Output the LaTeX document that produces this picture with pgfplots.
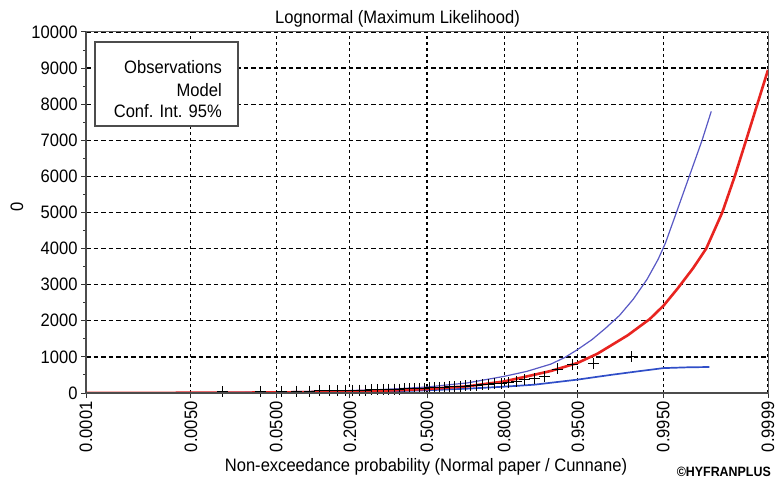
\documentclass[border=0pt]{standalone}
\usepackage{pgfplots}
\pgfplotsset{compat=1.18}
\usepackage{fontspec}
\setmainfont{Liberation Sans}[FakeStretch=0.92]

\definecolor{modelred}{RGB}{232,36,32}
\definecolor{ciupper}{RGB}{88,88,196}
\definecolor{cilower}{RGB}{48,78,200}
\definecolor{framegray}{RGB}{95,95,95}

\newcommand{\chartfont}{\fontsize{18bp}{20bp}\selectfont}

\begin{document}
\begin{tikzpicture}
\begin{axis}[
  scale only axis,
  width=682bp, height=361bp,
  xmin=-3.719, xmax=3.719,
  ymin=0, ymax=10000,
  % normal probability paper: x is the standard normal quantile
  xtick={-3.719,-2.576,-1.645,-0.8416,0,0.8416,1.645,2.576,3.719},
  xticklabels={0.0001,0.0050,0.0500,0.2000,0.5000,0.8000,0.9500,0.9950,0.9999},
  x tick label style={rotate=90, anchor=east, font=\chartfont},
  ytick distance=1000,
  minor y tick num=1,
  scaled y ticks=false,
  y tick label style={font=\chartfont,
    /pgf/number format/assume math mode=true,
    /pgf/number format/1000 sep={}},
  xtick pos=left, ytick pos=left,
  tick align=outside,
  major tick length=5bp, minor tick length=3bp,
  tick style={black!80, line width=1bp},
  grid=major,
  x grid style={black, line width=1.3bp, dash pattern=on 3bp off 3bp},
  y grid style={black, line width=1.3bp, dash pattern=on 4.5bp off 3bp},
  axis line style={framegray, line width=1bp},
]

% observations (Cunnane plotting positions, n = 46)
\addplot[only marks, mark=+, mark size=5.5bp, black, line width=0.9bp] table {
x y
-2.227 30
-1.817 40
-1.587 45
-1.419 50
-1.284 55
-1.169 60
-1.068 62
-0.976 65
-0.892 70
-0.814 75
-0.741 78
-0.671 82
-0.605 85
-0.541 90
-0.479 95
-0.419 100
-0.360 105
-0.303 110
-0.246 115
-0.191 120
-0.136 125
-0.081 130
-0.027 135
0.027 140
0.081 148
0.136 155
0.191 162
0.246 170
0.303 178
0.360 185
0.419 195
0.479 205
0.541 215
0.605 225
0.671 240
0.741 255
0.814 270
0.892 290
0.976 320
1.068 370
1.169 390
1.284 460
1.419 665
1.587 790
1.817 830
2.227 1000
};

% confidence interval 95%, lower bound
\addplot[cilower, line width=1.7bp] coordinates {
(-3.719,0) (-3,1) (-2,4) (-1,18) (-0.5,40) (0,75) (0.44,120) (0.84,175)
(1.17,230) (1.64,370) (2.0,500) (2.3,600) (2.58,690) (2.85,712) (3.08,720)
};

% confidence interval 95%, upper bound
\addplot[ciupper, line width=1.2bp] coordinates {
(-3.719,4) (-3,8) (-2,20) (-1,55) (-0.5,95) (0,165) (0.44,280) (0.84,460)
(1.09,600) (1.35,800) (1.5,980) (1.64,1200) (1.8,1480) (1.95,1800)
(2.1,2150) (2.25,2600) (2.4,3150) (2.52,3700) (2.6,4150) (2.72,5000)
(2.86,6000) (3.0,7000) (3.1,7800)
};

% fitted lognormal model
\addplot[modelred, line width=2.6bp] coordinates {
(-3.719,2) (-3,4) (-2.5,7) (-2,11) (-1.5,19) (-1,34) (-0.5,61) (0,110)
(0.44,185) (0.84,320) (1.09,460) (1.35,610) (1.64,830) (1.86,1090)
(2.19,1600) (2.43,2050) (2.58,2420) (2.735,2900) (2.9,3450) (3.045,4000)
(3.22,5000) (3.356,6000) (3.48,7000) (3.719,8950)
};
\end{axis}

% darker left and bottom frame
\draw[black!70, line width=2bp] (0,361bp) -- (0,0) -- (682bp,0);

% legend box (entries only, as in the original)
\draw[black!70, line width=1.3bp, fill=white] (9bp,267bp) rectangle (152bp,351bp);
\node[anchor=base east, font=\chartfont, inner sep=0pt] at (136bp,319bp) {Observations};
\node[anchor=base east, font=\chartfont, inner sep=0pt] at (136bp,296.5bp) {Model};
\node[anchor=base east, font=\chartfont, inner sep=0pt] at (136bp,275bp) {Conf. Int. 95\%};

% titles
\node[anchor=base, font=\chartfont, inner sep=0pt] at (311.5bp,369bp) {Lognormal (Maximum Likelihood)};
\node[anchor=base, font=\chartfont, inner sep=0pt] at (340bp,-78.7bp) {Non-exceedance probability (Normal paper / Cunnane)};
\node[rotate=90, font=\chartfont, inner sep=0pt] at (-69bp,186bp) {0};
\node[anchor=base east, font=\bfseries\fontsize{13.5bp}{15bp}\selectfont, inner sep=0pt]
  at (685bp,-83.7bp) {\textcopyright HYFRANPLUS};

\pgfresetboundingbox
\path (-86bp,-91bp) rectangle (691bp,393bp);
\end{tikzpicture}
\end{document}
